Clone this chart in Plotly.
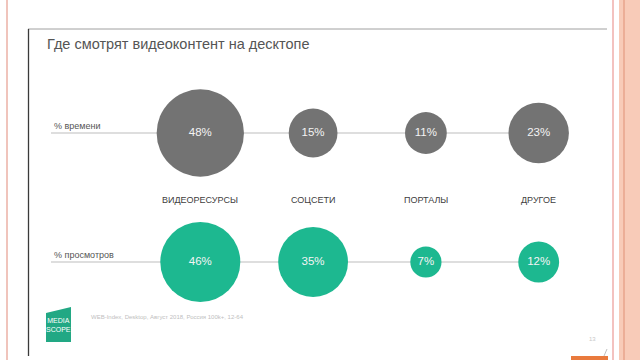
import math
import plotly.graph_objects as go

# ---- data ----
categories = ["ВИДЕОРЕСУРСЫ", "СОЦСЕТИ", "ПОРТАЛЫ", "ДРУГОЕ"]
rows = ["% времени", "% просмотров"]
time_share = [48, 15, 11, 23]
views_share = [46, 35, 7, 12]
title_text = "Где смотрят видеоконтент на десктопе"
source_text = "WEB-Index, Desktop, Август 2018, Россия 100k+, 12-64"
page_no = "13"

# ---- styling ----
W, H = 640, 360
GRAY = "#737373"
GREEN = "#1db890"
ROW_K = [12.6, 11.8]  # marker diameter (px) per sqrt(percent), per row -> area ~ value
FONT = "Liberation Sans, Arial, sans-serif"


def px(x):
    return x / W


def py(y):
    return 1 - y / H


fig = go.Figure()
for row, vals, color, k in zip(rows, [time_share, views_share], [GRAY, GREEN], ROW_K):
    fig.add_trace(go.Scatter(
        x=categories,
        y=[row] * len(categories),
        mode="markers+text",
        marker=dict(size=[k * math.sqrt(v) for v in vals], sizemode="diameter",
                    color=color, line=dict(width=0), opacity=1),
        text=[f"{v}%" for v in vals],
        textposition="middle center",
        textfont=dict(family=FONT, size=11.5, color="#f4f4f4"),
        hoverinfo="skip", showlegend=False, cliponaxis=False,
    ))

shapes = []
# row guide lines
for row in rows:
    shapes.append(dict(type="line", xref="paper", yref="y", x0=px(51), x1=px(537),
                       y0=row, y1=row, line=dict(color="#bdbdbd", width=1.2), layer="below"))

# slide decorations
shapes += [
    dict(type="line", xref="paper", yref="paper", x0=px(7), x1=px(7), y0=0, y1=1,
         line=dict(color="#f0c4bc", width=2)),
    dict(type="line", xref="paper", yref="paper", x0=px(613), x1=px(613), y0=0, y1=1,
         line=dict(color="#f3c2bf", width=2)),
    dict(type="rect", xref="paper", yref="paper", x0=px(619), x1=1, y0=0, y1=1,
         fillcolor="#f8cbb8", line=dict(width=0)),
    dict(type="line", xref="paper", yref="paper", x0=px(624), x1=px(624), y0=0, y1=1,
         line=dict(color="#e8a58c", width=1.5)),
    dict(type="line", xref="paper", yref="paper", x0=px(28), x1=px(607), y0=py(29), y1=py(29),
         line=dict(color="#a0a0a0", width=1)),
    dict(type="line", xref="paper", yref="paper", x0=px(28.5), x1=px(28.5), y0=py(29), y1=py(356),
         line=dict(color="#3a3a3a", width=1.3)),
    dict(type="rect", xref="paper", yref="paper", x0=px(571), x1=px(608), y0=py(356), y1=0,
         fillcolor="#e97a3d", line=dict(width=0)),
    dict(type="line", xref="paper", yref="paper", x0=px(607), x1=px(604), y0=py(349), y1=py(356),
         line=dict(color="#b0b0b0", width=0.8)),
]
# logo
logo_pts = [(46, 313), (71, 307), (71, 342), (46, 342)]
path = "M " + " L ".join(f"{px(x):.5f},{py(y):.5f}" for x, y in logo_pts) + " Z"
shapes.append(dict(type="path", xref="paper", yref="paper", path=path,
                   fillcolor="#22a884", line=dict(width=0)))

annotations = [
    dict(text=title_text, xref="paper", yref="paper", x=px(45), y=py(44),
         xanchor="left", yanchor="middle", showarrow=False,
         font=dict(family=FONT, size=14.5, color="#555555")),
    dict(text=source_text, xref="paper", yref="paper", x=px(89), y=py(317),
         xanchor="left", yanchor="middle", showarrow=False,
         font=dict(family=FONT, size=6, color="#c0c0c0")),
    dict(text=page_no, xref="paper", yref="paper", x=px(592), y=py(339),
         xanchor="center", yanchor="middle", showarrow=False,
         font=dict(family=FONT, size=6, color="#c8c8c8")),
    dict(text="MEDIA<br>SCOPE", xref="paper", yref="paper", x=px(58.5), y=py(325),
         xanchor="center", yanchor="middle", showarrow=False,
         font=dict(family=FONT, size=7, color="#ffffff")),
]
for row in rows:
    annotations.append(dict(text=row, xref="paper", yref="y", x=px(52), y=row,
                            xanchor="left", yanchor="middle", yshift=7, showarrow=False,
                            font=dict(family=FONT, size=9, color="#555555")))
for cat in categories:
    annotations.append(dict(text=cat, xref="x", yref="paper", x=cat, y=py(199.5),
                            xanchor="center", yanchor="middle", showarrow=False,
                            font=dict(family=FONT, size=9, color="#404040")))

unit_x = 112.8
x0_px = 200.3
r0 = -x0_px / unit_x
r1 = r0 + W / unit_x
unit_y = 129.0
y_top = 133.0

fig.update_layout(
    width=W, height=H,
    margin=dict(l=0, r=0, t=0, b=0),
    paper_bgcolor="white", plot_bgcolor="white",
    xaxis=dict(type="category", categoryarray=categories, categoryorder="array",
               range=[r0, r1], visible=False, showgrid=False, zeroline=False),
    yaxis=dict(type="category", categoryarray=rows, categoryorder="array",
               range=[(H - y_top) / unit_y, -y_top / unit_y], visible=False,
               showgrid=False, zeroline=False),
    shapes=shapes,
    annotations=annotations,
    showlegend=False,
)

fig.write_html("out.html")
